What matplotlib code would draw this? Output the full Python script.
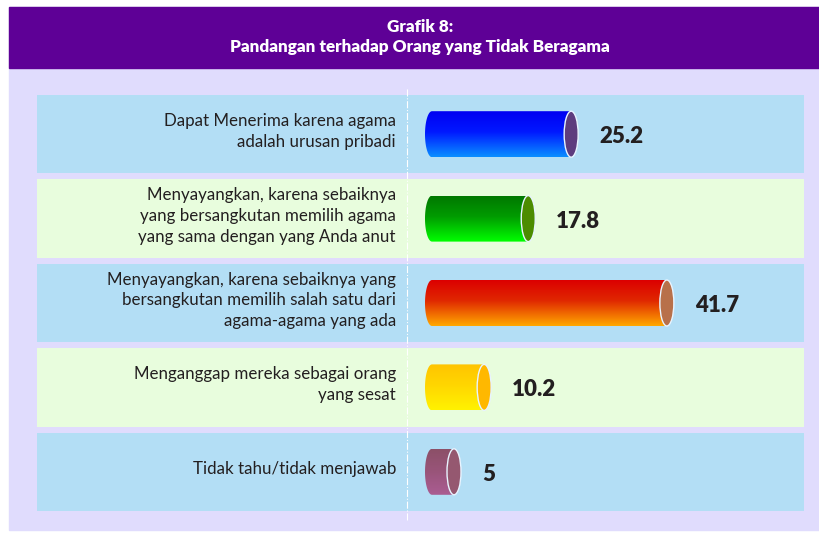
import numpy as np
import matplotlib
matplotlib.use("Agg")
import matplotlib.pyplot as plt
from matplotlib.patches import Rectangle, Ellipse, PathPatch
from matplotlib.path import Path
from matplotlib.colors import to_rgb

# data
labels = [
    "Dapat Menerima karena agama\nadalah urusan pribadi",
    "Menyayangkan, karena sebaiknya\nyang bersangkutan memilih agama\nyang sama dengan yang Anda anut",
    "Menyayangkan, karena sebaiknya yang\nbersangkutan memilih salah satu dari\nagama-agama yang ada",
    "Menganggap mereka sebagai orang\nyang sesat",
    "Tidak tahu/tidak menjawab",
]
values = [25.2, 17.8, 41.7, 10.2, 5]
value_text = ["25.2", "17.8", "41.7", "10.2", "5"]
top_colors = ["#0000f2", "#007800", "#dc0000", "#ffc400", "#8c5068"]
mid_colors = ["#0018ff", "#009c00", "#e02800", "#ffd600", "#985478"]
bottom_colors = ["#0a8eff", "#00ff00", "#ffa800", "#fff200", "#aa5c92"]
cap_colors = ["#5e3c7e", "#4c8c00", "#b8704a", "#ffb800", "#955870"]
panel_colors = ["#b3def5", "#e8fddd", "#b3def5", "#e8fddd", "#b3def5"]

title = "Grafik 8:\nPandangan terhadap Orang yang Tidak Beragama"

W, H = 819, 533
fig = plt.figure(figsize=(W / 100, H / 100), dpi=100)
fig.patch.set_facecolor("white")

def fx(px):
    return px / W

def fy(py):
    return 1 - py / H

# frame + title band
fig.patches.append(Rectangle((fx(9), fy(530)), fx(819 - 9), (530 - 7) / H,
                             transform=fig.transFigure, color="#e0dcfd", zorder=-2))
fig.patches.append(Rectangle((fx(9), fy(68)), fx(819 - 9), (68 - 7) / H,
                             transform=fig.transFigure, color="#5e0096", zorder=-1))
fig.text(fx(420), fy(37), title, ha="center", va="center", color="white",
         fontsize=12.3, fontweight="heavy", family="Lato", linespacing=1.35)

# main axes over the row panels
left_px, right_px, top_px, bot_px = 37, 804, 92, 514
ax = fig.add_axes([fx(left_px), fy(bot_px), (right_px - left_px) / W, (bot_px - top_px) / H])
ax.set_zorder(5)
ax.set_axis_off()
zero_px = 425
ppu = 5.8  # pixels per unit
ax.set_xlim(-(zero_px - left_px) / ppu, (right_px - zero_px) / ppu)
n = len(values)
ax.set_ylim(n - 0.5, -0.5)
xmin, xmax = ax.get_xlim()

row_px = (bot_px - top_px) / n
bar_h = 46 / row_px
cap_w = 14 / ppu

for i in range(n):
    ax.add_patch(Rectangle((xmin, i - 0.465), xmax - xmin, 0.93,
                           color=panel_colors[i], zorder=0, lw=0))

# dash-dot separator
ax.axvline(-3.1, ymin=-(520 - bot_px) / (bot_px - top_px), ymax=1 + (top_px - 88) / (bot_px - top_px),
           color="white", lw=0.8, ls="-.", clip_on=False, zorder=1)

for i, (v, lab) in enumerate(zip(values, labels)):
    y0, y1 = i - bar_h / 2, i + bar_h / 2
    # gradient
    c = np.array([to_rgb(top_colors[i]), to_rgb(mid_colors[i]), to_rgb(bottom_colors[i])])
    t = np.linspace(0, 1, 100)
    grad = np.stack([np.interp(t, [0, 0.45, 1], c[:, k]) for k in range(3)], axis=-1)[:, None, :]
    im = ax.imshow(grad, extent=(0, v, y0, y1), origin="lower", aspect="auto", zorder=2,
                   interpolation="bilinear")
    # bar outline: left half-ellipse + straight edges to the cap
    th = np.linspace(np.pi / 2, 3 * np.pi / 2, 40)
    rx = cap_w / 2
    xs = list(rx + rx * np.cos(th)) + [v, v]
    ys = list(i - (bar_h / 2) * np.sin(th)) + [y1, y0]
    verts = list(zip(xs, ys)) + [(xs[0], ys[0])]
    path = Path(verts, closed=True)
    clip = PathPatch(path, transform=ax.transData, facecolor="none", edgecolor="none")
    ax.add_patch(clip)
    im.set_clip_path(clip)
    ax.set_xlim(xmin, xmax)
    ax.set_ylim(n - 0.5, -0.5)
    # cap
    ax.add_patch(Ellipse((v, i), cap_w, bar_h, facecolor=cap_colors[i],
                         edgecolor="#e8f4ff", lw=1.0, zorder=3))
    # value
    ax.text(v + (cap_w / 2) + 21 / ppu, i + 0.03, value_text[i], ha="left", va="center",
            fontsize=16, fontweight="heavy", family="Lato", color="#231f20", zorder=4)
    # label
    ax.text(-29 / ppu, i - 0.03, lab, ha="right", va="center", multialignment="right",
            fontsize=12.2, family="Lato", color="#231f20", linespacing=1.38, zorder=4)

fig.savefig("out.png", dpi=100)
